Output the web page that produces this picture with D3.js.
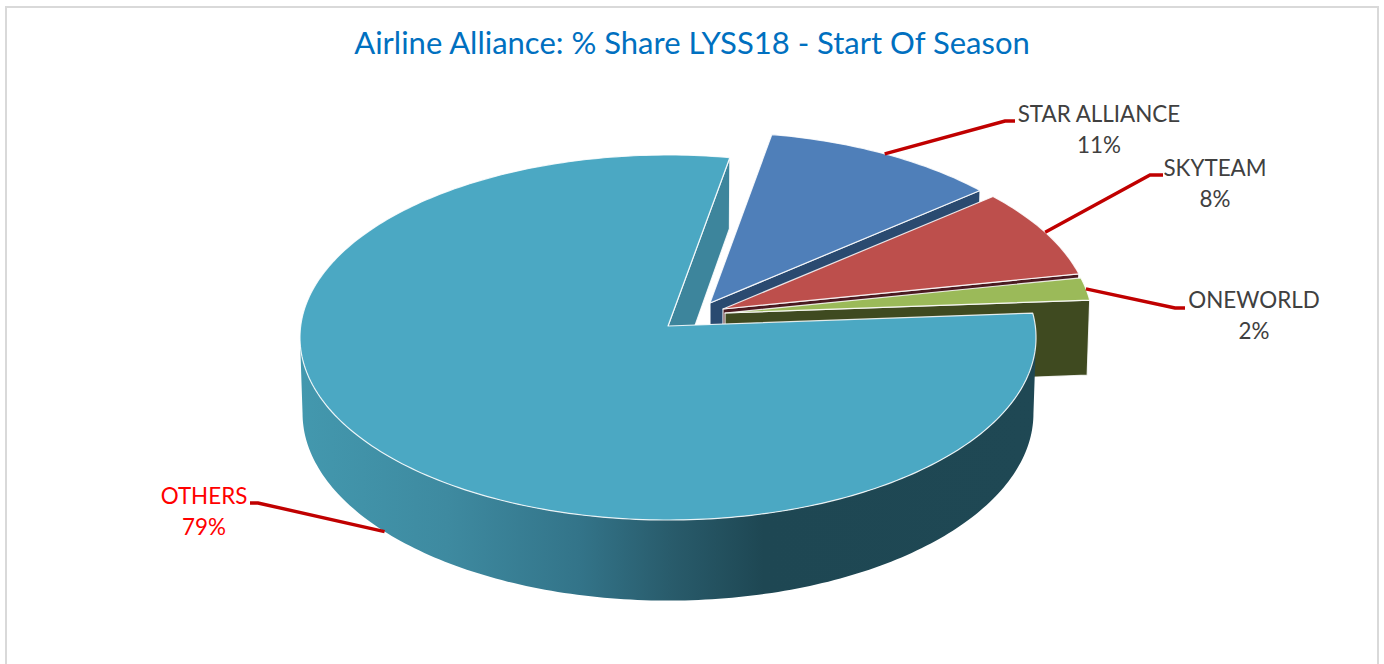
<!DOCTYPE html>
<html>
<head>
<meta charset="utf-8">
<script src="https://cdn.jsdelivr.net/npm/d3@7/dist/d3.min.js"></script>
<style>
html,body{margin:0;padding:0;background:#fff;overflow:hidden}
svg{display:block}
text{font-family:Lato,"Open Sans",sans-serif}
</style>
</head>
<body>
<svg id="c" width="1384" height="664"></svg>
<script>
const categories = ["OTHERS", "STAR ALLIANCE", "SKYTEAM", "ONEWORLD"];
const shares = [79, 11, 8, 2];
const titleText = "Airline Alliance: % Share LYSS18 - Start Of Season";

// styling & layout, by category
const topColors = ["#4ba8c3", "#4f7fb9", "#bd4f4c", "#9bba59"];
const cutColors = ["#3d859c", "#2a4a70", "#4a1a20", "#3f4a20"];
const labelColors = ["#ff0000", "#404040", "#404040", "#404040"];
const explode = [[0, 0], [42, -23], [55, -17], [57, -13]];
const labelPos = [[204, 504], [1099, 122], [1215, 176], [1254, 308]];
const elbows = [
  [[258, 503], [250, 503]],
  [[1005, 121], [1015, 121]],
  [[1150, 175], [1163, 175]],
  [[1175, 308], [1185, 308]]
];

const cx = 668, cy = 326, A = 367.3, B = 181.8, K = 0.063, DEPTH = 75.5, SHRINK = 0.993;
const rad = d => d * Math.PI / 180;

const svg = d3.select("#c");
const defs = svg.append("defs");
const grad = defs.append("linearGradient").attr("id", "wall")
  .attr("gradientUnits", "userSpaceOnUse").attr("x1", 300).attr("x2", 1036).attr("y1", 0).attr("y2", 0);
[[0, "#4398ae"], [0.2, "#3e8aa0"], [0.38, "#337489"], [0.5, "#295c6c"], [0.63, "#1e4753"], [1, "#1f4854"]]
  .forEach(s => grad.append("stop").attr("offset", s[0]).attr("stop-color", s[1]));

// frame
svg.append("path").attr("d", "M6,664V7H1378V664").attr("fill", "none").attr("stroke", "#d9d9d9").attr("stroke-width", 2);

// perspective projection of a unit-circle point
function project(a, r, ex, low) {
  const u = r * Math.sin(a), v = r * Math.cos(a), w = 1 + K * v;
  const px = A * u / w, py = -B * v / w;
  return low
    ? [cx + ex[0] + px * SHRINK, cy + ex[1] + py + DEPTH / w]
    : [cx + ex[0] + px, cy + ex[1] + py];
}
const line = d3.line();
const arcs = d3.pie().sort(null).value(d => d)
  .startAngle(rad(85.9)).endAngle(rad(85.9) + 2 * Math.PI)(shares);

function sweep(a0, a1, ex, low) {
  const n = Math.max(2, Math.ceil(Math.abs(a1 - a0) / rad(1)));
  return d3.range(n + 1).map(i => project(a0 + (a1 - a0) * i / n, 1, ex, low));
}
const edge = "rgba(255,255,255,0.85)";
const g = svg.append("g").attr("stroke-linejoin", "round");

function cutFace(i, ang, fill) {
  const ex = explode[i];
  const pts = [project(0, 0, ex, false), project(ang, 1, ex, false), project(ang, 1, ex, true), project(0, 0, ex, true)];
  g.append("path").attr("d", line(pts) + "Z").attr("fill", fill).attr("stroke", edge).attr("stroke-width", 1.2);
}
function topFace(i, d) {
  const ex = explode[i];
  const pts = [project(0, 0, ex, false)].concat(sweep(d.startAngle, d.endAngle, ex, false));
  g.append("path").attr("d", line(pts) + "Z").attr("fill", topColors[i]).attr("stroke", edge).attr("stroke-width", 1.2);
}

// back to front: others' far cut, then exploded slices, then the big slice
cutFace(0, arcs[0].endAngle, cutColors[0]);
[1, 2, 3].forEach(i => {
  cutFace(i, arcs[i].endAngle, cutColors[i]);
  topFace(i, arcs[i]);
});
// outer wall of the big slice
const wa0 = rad(93.6), wa1 = rad(266.4);
const wallPts = sweep(wa0, wa1, explode[0], false).concat(sweep(wa1, wa0, explode[0], true));
g.append("path").attr("d", line(wallPts) + "Z").attr("fill", "url(#wall)").attr("stroke", "none");
topFace(0, arcs[0]);

// leaders
const lg = svg.append("g").attr("fill", "none").attr("stroke", "#c00000").attr("stroke-width", 3.4);
arcs.forEach((d, i) => {
  const mid = (d.startAngle + d.endAngle) / 2;
  const start = project(mid, 1, explode[i], i === 0);
  lg.append("path").attr("d", line([start].concat(elbows[i])));
});

// labels
arcs.forEach((d, i) => {
  const t = svg.append("text").attr("text-anchor", "middle").attr("fill", labelColors[i])
    .attr("font-size", 22.4);
  t.append("tspan").attr("x", labelPos[i][0]).attr("y", labelPos[i][1]).text(categories[i]);
  t.append("tspan").attr("x", labelPos[i][0]).attr("y", labelPos[i][1] + 31).text(shares[i] + "%");
});

svg.append("text").attr("x", 692).attr("y", 54).attr("text-anchor", "middle")
  .attr("fill", "#0070c0").attr("font-size", 31).text(titleText);
</script>
</body>
</html>
